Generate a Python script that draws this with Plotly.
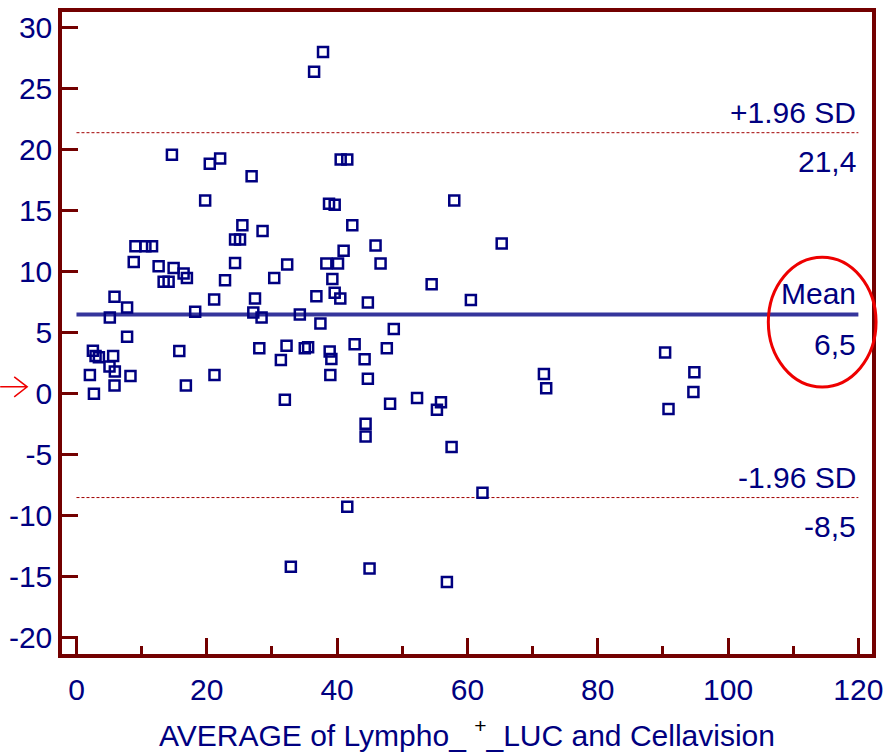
import plotly.graph_objects as go

# Bland-Altman: average of the two methods vs. their difference
avg = [14.65, 20.46, 22.05, 26.88, 19.75, 25.46, 24.34, 25.10, 28.56,
       9.05, 10.58, 11.60, 8.79, 12.61, 14.91, 16.44, 16.95, 13.38, 14.14,
       22.80, 24.34, 30.35, 32.34, 5.84, 7.77, 5.12, 18.22, 21.13, 27.40,
       27.14, 28.41, 34.28, 7.77, 2.52, 2.93, 3.44, 5.63, 5.07, 5.89, 2.06,
       8.29, 15.78, 16.79, 21.18, 5.84, 2.68, 28.06, 32.24, 31.37, 31.98,
       37.84, 36.47, 40.55, 41.56, 38.76, 39.63, 57.98, 42.33, 41.00, 45.90,
       65.26, 38.35, 40.14, 46.67, 39.27, 39.63, 40.49, 36.82, 44.72, 54.51,
       60.53, 37.44, 48.70, 35.04, 35.55, 38.86, 39.12, 42.69, 44.22, 47.63,
       38.96, 44.72, 48.13, 52.27, 55.94, 55.32, 44.37, 44.37, 57.57,
       32.90, 41.56, 44.98, 56.85, 62.31,
       71.74, 72.09, 90.34, 94.83, 94.68, 90.86]
diff = [19.60, 18.85, 19.28, 17.84, 15.85, 13.81, 12.64, 12.64, 13.34,
        12.09, 12.09, 12.09, 10.81, 10.46, 10.32, 9.86, 9.50, 9.18, 9.18,
        9.31, 10.73, 9.50, 10.59, 7.95, 7.08, 6.26, 6.73, 7.73, 7.81,
        6.67, 6.26, 6.51, 4.68, 3.54, 3.10, 3.00, 3.10, 2.23, 1.82, 1.55,
        1.47, 3.51, 0.68, 1.55, 0.68, 0.00, 3.73, 3.95, 2.78, -0.49,
        28.02, 26.39, 19.20, 19.20, 15.58, 15.50, 15.85, 13.81, 11.72, 12.15,
        12.31, 10.68, 10.68, 10.68, 9.40, 8.28, 7.81, 8.00, 7.49, 8.99,
        7.68, 5.77, 5.31, 3.73, 3.81, 3.46, 2.86, 4.06, 2.83, 3.73,
        1.55, 1.23, -0.82, -0.35, -0.68, -1.31, -2.45, -3.49, -4.36,
        -14.16, -9.26, -14.32, -15.41, -8.11,
        1.63, 0.46, 3.38, 1.77, 0.14, -1.25]

mean_diff = 6.5
upper_loa = 21.4
lower_loa = -8.5
line_x = [0, 120]

x_ticks = [0, 20, 40, 60, 80, 100, 120]
y_ticks = [-20, -15, -10, -5, 0, 5, 10, 15, 20, 25, 30]

NAVY = "#000080"
FRAME = "#730000"
FONT = "Liberation Sans, Arial, sans-serif"

fig = go.Figure()

fig.add_trace(go.Scatter(
    x=line_x, y=[mean_diff, mean_diff], mode="lines",
    line=dict(color="#35359c", width=4), hoverinfo="skip"))
for lv in (upper_loa, lower_loa):
    fig.add_trace(go.Scatter(
        x=line_x, y=[lv, lv], mode="lines",
        line=dict(color="#a00000", width=1, dash="3px,2px"), hoverinfo="skip"))

fig.add_trace(go.Scatter(
    x=avg, y=diff, mode="markers",
    marker=dict(symbol="square-open", size=10, color=NAVY,
                line=dict(color=NAVY, width=2.5))))

def label(text, yv, shift):
    fig.add_annotation(x=120, y=yv, xref="x", yref="y", text=text,
                       showarrow=False, xanchor="right", yanchor="middle",
                       yshift=shift, xshift=0,
                       font=dict(family=FONT, size=30, color=NAVY))

label("+1.96 SD", upper_loa, 20)
label(f"{upper_loa:.1f}".replace(".", ","), upper_loa, -29)
label("Mean", mean_diff, 21)
label(f"{mean_diff:.1f}".replace(".", ","), mean_diff, -30)
label("-1.96 SD", lower_loa, 20)
label(f"{lower_loa:.1f}".replace(".", ","), lower_loa, -29)

# red ellipse highlighting the mean label
fig.add_shape(type="circle", xref="paper", yref="paper",
              x0=0.872, x1=1.005, y0=0.416, y1=0.618,
              line=dict(color="#ee0000", width=3), layer="above")

# red arrow beside the zero level
fig.add_shape(type="path", xref="paper", yref="paper",
              path="M -0.0763,0.4161 L -0.0430,0.4161 "
                   "M -0.0590,0.4317 L -0.0430,0.4161 L -0.0590,0.4006",
              line=dict(color="#ee0000", width=1.5), layer="above")

fig.update_layout(
    width=891, height=756,
    margin=dict(l=62, r=8, t=8, b=96),
    paper_bgcolor="white", plot_bgcolor="white",
    showlegend=False,
    font=dict(family=FONT, color=NAVY),
    xaxis=dict(
        range=[-2.22, 122.09], tickvals=x_ticks,
        ticktext=[str(v) for v in x_ticks],
        ticks="inside", ticklen=16, ticklabelstandoff=6,
        ticklabeloverflow="allow",
        tickwidth=2.5, tickcolor=FRAME, showgrid=False, zeroline=False,
        showline=True, linecolor=FRAME, linewidth=3.5, mirror=True,
        minor=dict(dtick=10, tick0=0, ticks="inside", ticklen=8,
                   tickwidth=2.5, tickcolor=FRAME, showgrid=False),
        tickfont=dict(family=FONT, size=30, color=NAVY),
        title=dict(text="AVERAGE of Lympho_ <span style='color:black'><sup>+</sup></span>_LUC and Cellavision",
                   font=dict(family=FONT, size=30, color=NAVY), standoff=21),
    ),
    yaxis=dict(
        range=[-21.32, 31.29], tickvals=y_ticks,
        ticktext=[str(v) for v in y_ticks],
        ticks="inside", ticklen=16,
        tickwidth=2.5, tickcolor=FRAME, showgrid=False, zeroline=False,
        showline=True, linecolor=FRAME, linewidth=3.5, mirror=True,
        tickfont=dict(family=FONT, size=30, color=NAVY),
    ),
)

fig.write_html("out.html")
